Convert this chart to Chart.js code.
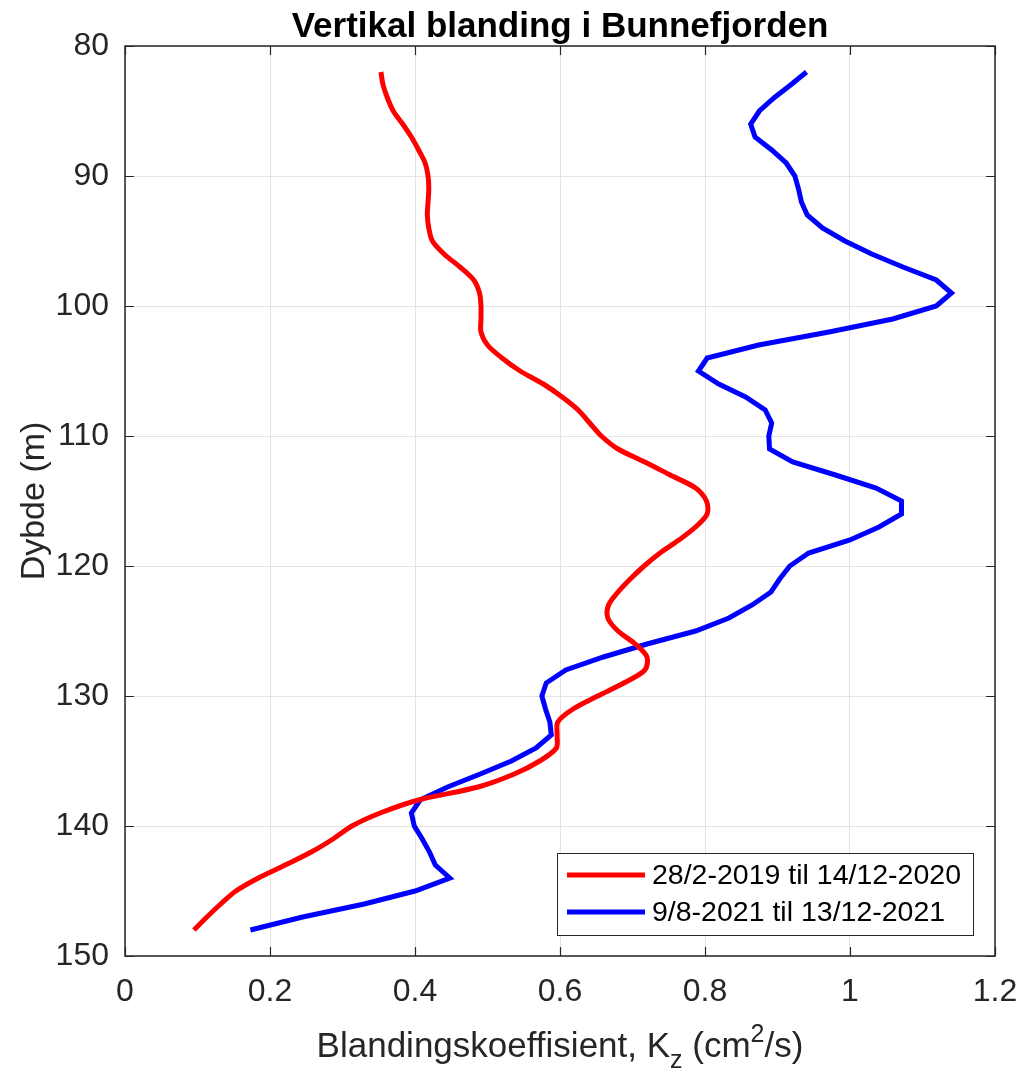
<!DOCTYPE html>
<html>
<head>
<meta charset="utf-8">
<script src="https://cdn.jsdelivr.net/npm/chart.js@4/dist/chart.umd.min.js"></script>
<style>
  html, body { margin: 0; padding: 0; background: #fff; }
  #wrap { width: 1035px; height: 1070px; position: relative; }
</style>
</head>
<body>
<div id="wrap"><canvas id="grafico"></canvas></div>
<script>
// Dybder (m) og blandingskoeffisient Kz (cm2/s), lest av figuren
const dybder = [82, 83, 84, 85, 86, 87, 88, 89, 90, 91, 92, 93, 94, 95, 96, 97, 98, 99, 100,
  101, 102, 103, 104, 105, 106, 107, 108, 109, 110, 111, 112, 113, 114, 115, 116, 117, 118, 119, 120,
  121, 122, 123, 124, 125, 126, 127, 128, 129, 130, 131, 132, 133, 134, 135, 136, 137, 138, 139, 140,
  141, 142, 143, 144, 145, 146, 147, 148];

const kzPeriode1 = [0.353, 0.356, 0.362, 0.370, 0.383, 0.395, 0.405, 0.414, 0.418, 0.419, 0.418, 0.417, 0.419, 0.424, 0.440, 0.462, 0.481, 0.489, 0.491,
  0.491, 0.491, 0.500, 0.520, 0.545, 0.577, 0.603, 0.625, 0.641, 0.657, 0.680, 0.717, 0.752, 0.787, 0.802, 0.803, 0.787, 0.764, 0.738, 0.716,
  0.697, 0.680, 0.667, 0.666, 0.680, 0.704, 0.720, 0.717, 0.688, 0.652, 0.618, 0.597, 0.596, 0.595, 0.572, 0.537, 0.487, 0.405, 0.352, 0.313,
  0.287, 0.257, 0.221, 0.184, 0.153, 0.132, 0.113, 0.095];

const kzPeriode2 = [0.940, 0.918, 0.895, 0.875, 0.863, 0.869, 0.892, 0.912, 0.924, 0.929, 0.933, 0.941, 0.962, 0.993, 1.030, 1.073, 1.119, 1.140, 1.119,
  1.059, 0.971, 0.874, 0.803, 0.791, 0.819, 0.856, 0.883, 0.892, 0.888, 0.889, 0.921, 0.980, 1.036, 1.071, 1.071, 1.040, 1.000, 0.943, 0.917,
  0.903, 0.891, 0.865, 0.833, 0.787, 0.720, 0.660, 0.608, 0.581, 0.575, 0.580, 0.586, 0.588, 0.567, 0.533, 0.490, 0.445, 0.407, 0.395, 0.399,
  0.410, 0.420, 0.428, 0.448, 0.400, 0.330, 0.245, 0.173];

const etiketter = ['28/2-2019 til 14/12-2020', '9/8-2021 til 13/12-2021'];
const farger = ['#ff0000', '#0000ff'];
const tittel = 'Vertikal blanding i Bunnefjorden';
const yTittel = 'Dybde (m)';

const FONT = '"Liberation Sans", Arial, Helvetica, sans-serif';
const AKSEFARGE = '#262626';

// Tegner ramme, innvendige tick-merker, titler og legende (MATLAB-stil)
const matlabStil = {
  id: 'matlabStil',
  afterDraw(chart) {
    const ctx = chart.ctx;
    const a = chart.chartArea;
    const sx = chart.scales.x, sy = chart.scales.y;
    ctx.save();

    // ramme
    ctx.strokeStyle = AKSEFARGE;
    ctx.lineWidth = 1.5;
    ctx.strokeRect(a.left, a.top, a.right - a.left, a.bottom - a.top);

    // tick-merker innover
    const tl = 9;
    ctx.beginPath();
    sx.ticks.forEach(t => {
      const px = Math.round(sx.getPixelForValue(t.value)) + 0.5;
      ctx.moveTo(px, a.bottom); ctx.lineTo(px, a.bottom - tl);
      ctx.moveTo(px, a.top); ctx.lineTo(px, a.top + tl);
    });
    sy.ticks.forEach(t => {
      const py = Math.round(sy.getPixelForValue(t.value)) + 0.5;
      ctx.moveTo(a.left, py); ctx.lineTo(a.left + tl, py);
      ctx.moveTo(a.right, py); ctx.lineTo(a.right - tl, py);
    });
    ctx.lineWidth = 1.2;
    ctx.stroke();

    const midtX = (a.left + a.right) / 2;

    // tittel
    ctx.fillStyle = '#000';
    ctx.font = 'bold 35px ' + FONT;
    ctx.textAlign = 'center';
    ctx.textBaseline = 'alphabetic';
    ctx.fillText(tittel, midtX, 37);

    // y-aksetittel
    ctx.save();
    ctx.translate(44, (a.top + a.bottom) / 2);
    ctx.rotate(-Math.PI / 2);
    ctx.fillStyle = AKSEFARGE;
    ctx.font = '34px ' + FONT;
    ctx.fillText(yTittel, 0, 0);
    ctx.restore();

    // x-aksetittel med senket z og hevet 2
    const deler = [
      { t: 'Blandingskoeffisient, K', s: 35, dy: 0 },
      { t: 'z', s: 25, dy: 11 },
      { t: ' (cm', s: 35, dy: 0 },
      { t: '2', s: 25, dy: -15 },
      { t: '/s)', s: 35, dy: 0 }
    ];
    let bredde = 0;
    deler.forEach(d => { ctx.font = d.s + 'px ' + FONT; d.w = ctx.measureText(d.t).width; bredde += d.w; });
    let x = midtX - bredde / 2;
    ctx.textAlign = 'left';
    ctx.fillStyle = AKSEFARGE;
    deler.forEach(d => {
      ctx.font = d.s + 'px ' + FONT;
      ctx.fillText(d.t, x, 1057 + d.dy);
      x += d.w;
    });

    // legende
    const lx = 557, ly = 853, lw = 416, lh = 82;
    ctx.fillStyle = '#fff';
    ctx.fillRect(lx, ly, lw, lh);
    ctx.strokeStyle = AKSEFARGE;
    ctx.lineWidth = 1;
    ctx.strokeRect(lx + 0.5, ly + 0.5, lw, lh);
    ctx.font = '28.5px ' + FONT;
    ctx.textBaseline = 'middle';
    etiketter.forEach((tekst, i) => {
      const yy = ly + 22 + i * 37;
      ctx.strokeStyle = farger[i];
      ctx.lineWidth = 5;
      ctx.beginPath();
      ctx.moveTo(lx + 10, yy); ctx.lineTo(lx + 88, yy);
      ctx.stroke();
      ctx.fillStyle = '#000';
      ctx.fillText(tekst, lx + 95, yy + 1);
    });

    ctx.restore();
  }
};

const seriePunkter = (verdier) => verdier.map((v, i) => ({ x: v, y: dybder[i] }));

new Chart(document.getElementById('grafico'), {
  type: 'scatter',
  data: {
    datasets: [
      {
        label: etiketter[0],
        data: seriePunkter(kzPeriode1),
        borderColor: farger[0],
        backgroundColor: farger[0],
        borderWidth: 5,
        showLine: true,
        pointRadius: 0,
        tension: 0.3
      },
      {
        label: etiketter[1],
        data: seriePunkter(kzPeriode2),
        borderColor: farger[1],
        backgroundColor: farger[1],
        borderWidth: 5,
        showLine: true,
        pointRadius: 0,
        tension: 0
      }
    ]
  },
  options: {
    responsive: true,
    maintainAspectRatio: false,
    animation: false,
    layout: { padding: { top: 46, right: 40, left: 0, bottom: 0 } },
    plugins: {
      legend: { display: false },
      tooltip: { enabled: false }
    },
    scales: {
      x: {
        type: 'linear',
        position: 'bottom',
        min: 0,
        max: 1.2,
        afterFit: (s) => { s.height = 114; },
        ticks: {
          stepSize: 0.2,
          padding: 17,
          color: AKSEFARGE,
          font: { family: FONT, size: 32 },
          maxRotation: 0,
          callback: (v) => String(parseFloat(v.toFixed(1)))
        },
        grid: { color: '#e3e3e3', lineWidth: 1, drawTicks: false },
        border: { display: false }
      },
      y: {
        type: 'linear',
        reverse: true,
        min: 80,
        max: 150,
        afterFit: (s) => { s.width = 125; },
        ticks: {
          stepSize: 10,
          padding: 16,
          color: AKSEFARGE,
          font: { family: FONT, size: 32 }
        },
        grid: { color: '#e3e3e3', lineWidth: 1, drawTicks: false },
        border: { display: false }
      }
    }
  },
  plugins: [matlabStil]
});
</script>
</body>
</html>
